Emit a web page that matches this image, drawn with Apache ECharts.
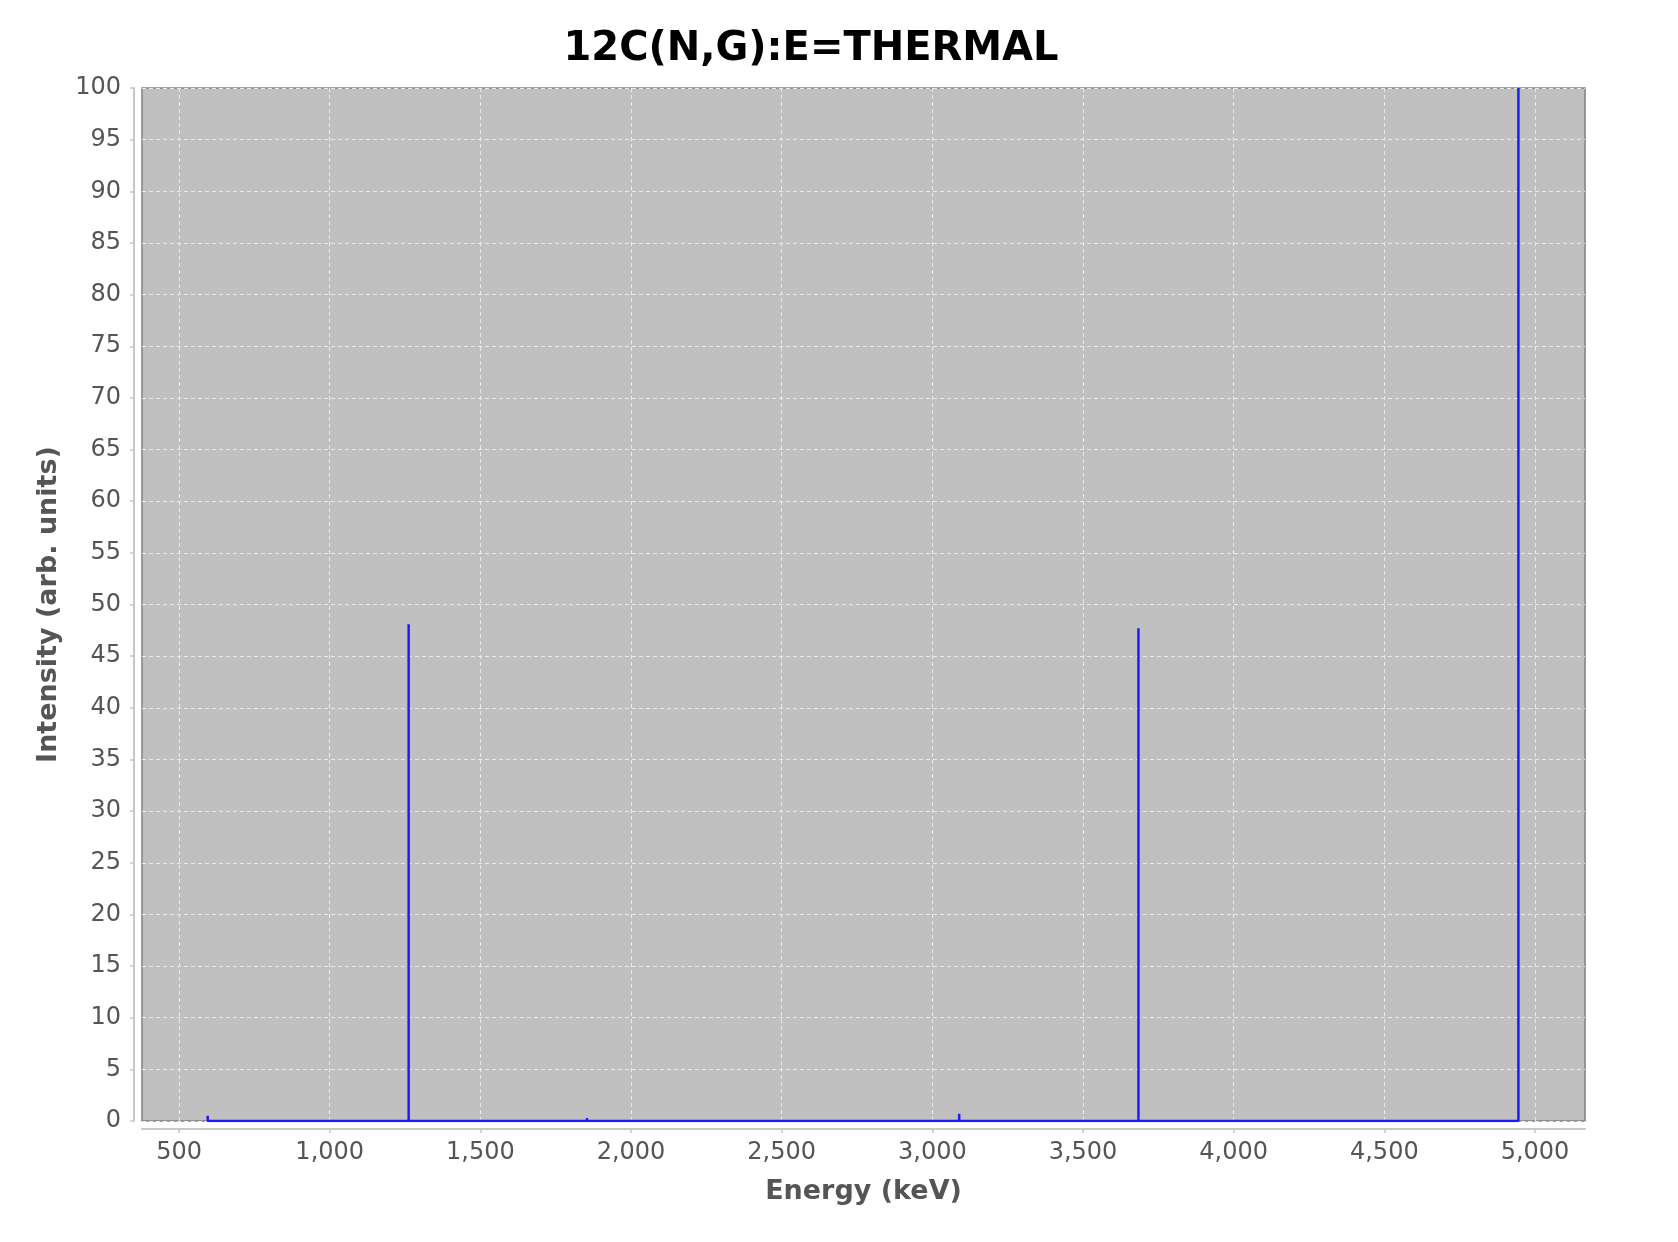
<!DOCTYPE html>
<html>
<head>
<meta charset="utf-8">
<script src="https://cdn.jsdelivr.net/npm/echarts@6/dist/echarts.min.js"></script>
<style>
html,body{margin:0;padding:0;background:#fff;}
#chart{width:1678px;height:1242px;}
</style>
</head>
<body>
<div id="chart"></div>
<script>
const titleText = '12C(N,G):E=THERMAL';
const xAxisName = 'Energy (keV)';
const yAxisName = 'Intensity (arb. units)';
const peakEnergies = [595, 1262, 1854, 3089, 3684, 4945];
const peakIntensities = [0.5, 48.1, 0.3, 0.7, 47.7, 100];
const xTicks = [500, 1000, 1500, 2000, 2500, 3000, 3500, 4000, 4500, 5000];
const xMin = 377, xMax = 5166;
const yMin = 0, yMax = 100, yStep = 5;

const lineData = [];
peakEnergies.forEach((e, i) => {
  lineData.push([e, 0]);
  lineData.push([e, peakIntensities[i]]);
  lineData.push([e, 0]);
});

const labelStyle = {color: '#555', fontSize: 24, fontFamily: 'DejaVu Sans'};
const chart = echarts.init(document.getElementById('chart'), null, {renderer: 'canvas'});
chart.setOption({
  animation: false,
  backgroundColor: '#ffffff',
  title: {
    text: titleText,
    left: 806, top: 25, textAlign: 'center',
    textStyle: {fontFamily: 'DejaVu Sans', fontWeight: 'bold', fontSize: 40, color: '#000'}
  },
  grid: {
    left: 142, right: 93, top: 88, bottom: 121,
    show: true, backgroundColor: '#c0c0c0', borderColor: '#808080', borderWidth: 1.5
  },
  xAxis: {
    type: 'value', min: xMin, max: xMax, offset: 8,
    name: xAxisName, nameLocation: 'middle', nameGap: 49,
    nameTextStyle: {color: '#555', fontSize: 27, fontWeight: 'bold', fontFamily: 'DejaVu Sans'},
    axisLine: {show: true, onZero: false, lineStyle: {color: '#c8c8c8', width: 2}},
    axisTick: {show: true, length: 4, customValues: xTicks, lineStyle: {color: '#c8c8c8', width: 1.5}},
    axisLabel: Object.assign({customValues: xTicks, margin: 12,
      formatter: v => v.toLocaleString('en-US')}, labelStyle),
    splitLine: {show: true, lineStyle: {color: '#eaeaea', type: [4, 3], width: 1}}
  },
  yAxis: {
    type: 'value', min: yMin, max: yMax, interval: yStep, offset: 8,
    name: yAxisName, nameLocation: 'middle', nameGap: 72,
    nameTextStyle: {color: '#555', fontSize: 27, fontWeight: 'bold', fontFamily: 'DejaVu Sans'},
    axisLine: {show: true, onZero: false, lineStyle: {color: '#c8c8c8', width: 2}},
    axisTick: {show: true, length: 4, lineStyle: {color: '#c8c8c8', width: 1.5}},
    axisLabel: Object.assign({margin: 13}, labelStyle),
    splitLine: {show: true, lineStyle: {color: '#eaeaea', type: [4, 3], width: 1}}
  },
  series: [{
    type: 'line', data: lineData, symbol: 'none',
    lineStyle: {color: '#1c1cff', width: 2.5}
  }]
});
</script>
</body>
</html>
